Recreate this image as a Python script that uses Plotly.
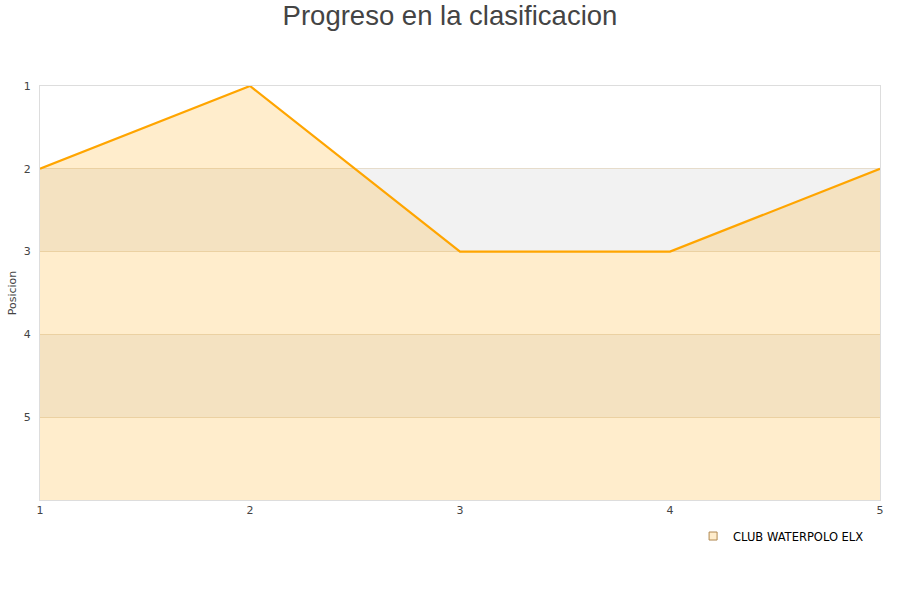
import plotly.graph_objects as go

jornadas = [1, 2, 3, 4, 5]
posiciones = [2, 1, 3, 3, 2]
equipo = "CLUB WATERPOLO ELX"
y_ticks = [1, 2, 3, 4, 5]
fondo = 6

fig = go.Figure()
# baseline for area fill
fig.add_trace(go.Scatter(x=jornadas, y=[fondo] * len(jornadas), mode="lines",
                         line=dict(width=0, color="rgba(0,0,0,0)"), showlegend=False, hoverinfo="skip"))
fig.add_trace(go.Scatter(x=jornadas, y=posiciones, mode="lines", fill="tonexty",
                         fillcolor="rgba(255,165,0,0.2)", line=dict(color="#ffa500", width=2.2),
                         showlegend=False, name=equipo))
# legend entry
fig.add_trace(go.Scatter(x=[None], y=[None], mode="markers", name=equipo,
                         marker=dict(symbol="square", size=8, color="#ffedcc",
                                     line=dict(color="#b08850", width=1))))

# alternating bands
for a in (2, 4):
    fig.add_shape(type="rect", xref="paper", x0=0, x1=1, yref="y", y0=a, y1=a + 1,
                  fillcolor="#f2f2f2", line=dict(width=0), layer="below")

fig.update_layout(
    width=900, height=600,
    paper_bgcolor="white", plot_bgcolor="white",
    margin=dict(l=40, r=20, t=86, b=100, autoexpand=False),
    title=dict(text="Progreso en la clasificacion", x=0.5, xanchor="center", y=0.975, yanchor="middle",
               font=dict(family="Liberation Sans, Arial, sans-serif", size=27.5, color="#444")),
    font=dict(family="DejaVu Sans, sans-serif", size=11, color="#444"),
    xaxis=dict(range=[1, 5], tickvals=jornadas, showgrid=False, zeroline=False, automargin=False,
               showline=True, linecolor="#dddddd", mirror=True, ticks="", ticklen=0,
               tickfont=dict(size=11, color="#444")),
    yaxis=dict(range=[6, 1], tickvals=y_ticks, showgrid=True, gridcolor="#e6dccb", zeroline=False,
               automargin=False,
               showline=True, linecolor="#dddddd", mirror=True, ticks="outside", ticklen=6,
               tickcolor="rgba(0,0,0,0)",
               title=dict(text="Posicion", font=dict(size=11, color="#444"), standoff=4)),
    legend=dict(orientation="h", x=0.987, xanchor="right", y=-0.087, yanchor="middle",
                font=dict(size=11.5, color="#000"), bgcolor="rgba(0,0,0,0)"),
    showlegend=True,
)

fig.write_html("out.html", config={"displayModeBar": False},
               post_script="document.body.style.margin='0';")
